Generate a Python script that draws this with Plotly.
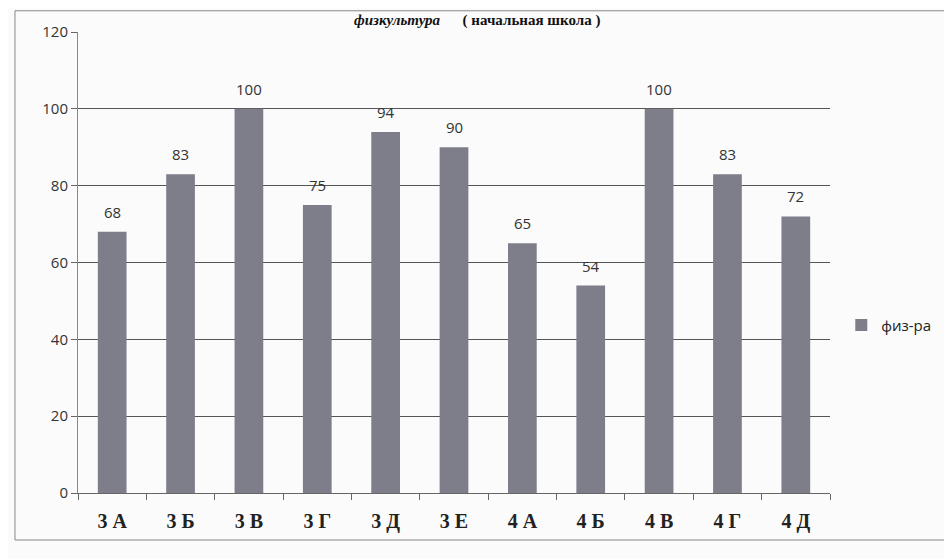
import plotly.graph_objects as go

categories = ["3 А", "3 Б", "3 В", "3 Г", "3 Д", "3 Е", "4 А", "4 Б", "4 В", "4 Г", "4 Д"]
values = [68, 83, 100, 75, 94, 90, 65, 54, 100, 83, 72]
series_name = "физ-ра"
y_ticks = [0, 20, 40, 60, 80, 100, 120]

fig = go.Figure()
fig.add_trace(go.Bar(
    x=categories, y=values, name=series_name,
    marker=dict(color="#7d7e89", line=dict(width=0)),
    width=0.42,
    showlegend=True,
))

label_annotations = [
    dict(x=c, y=v, xref="x", yref="y", text=str(v), showarrow=False,
         yanchor="bottom", yshift=8,
         font=dict(family="Open Sans, Arial, sans-serif", size=15, color="#333333"))
    for c, v in zip(categories, values)
]

fig.update_layout(
    width=952, height=559,
    margin=dict(l=70, r=130, t=24, b=74),
    paper_bgcolor="#fbfbfb", plot_bgcolor="#fbfbfb",
    showlegend=True,
    legend=dict(x=1.015, y=0.364, xanchor="left", yanchor="middle",
                font=dict(family="Open Sans, Arial, sans-serif", size=15, color="#222222"),
                bgcolor="rgba(0,0,0,0)", itemwidth=30),
    xaxis=dict(
        type="category", tickson="boundaries", ticks="outside", ticklen=6,
        tickcolor="#666666", showline=True, linecolor="#666666", linewidth=1,
        showgrid=False, ticklabelstandoff=10,
        tickfont=dict(family="Liberation Serif, Times New Roman, serif", size=20,
                      color="#222222", weight="bold"),
    ),
    yaxis=dict(
        range=[0, 120], tickvals=y_ticks, ticks="outside", ticklen=6,
        tickcolor="#666666", showline=True, linecolor="#888888", linewidth=1,
        showgrid=True, gridcolor="#555555", gridwidth=1, zeroline=False,
        tickfont=dict(family="Open Sans, Arial, sans-serif", size=15, color="#333333"),
    ),
    shapes=[dict(type="rect", xref="paper", yref="paper",
                 x0=-0.0838, x1=1.157, y0=-0.102, y1=1.046,
                 line=dict(color="#888888", width=1), fillcolor="rgba(0,0,0,0)", layer="below")],
    annotations=label_annotations + [dict(
        xref="paper", yref="paper", x=0.53, y=1.0, yanchor="bottom", xanchor="center",
        yshift=1, showarrow=False,
        text="<b><i>физкультура</i></b>      <b>( начальная школа )</b>",
        font=dict(family="Liberation Serif, Times New Roman, serif", size=15, color="#111111"),
    )],
)

fig.write_html("out.html")
